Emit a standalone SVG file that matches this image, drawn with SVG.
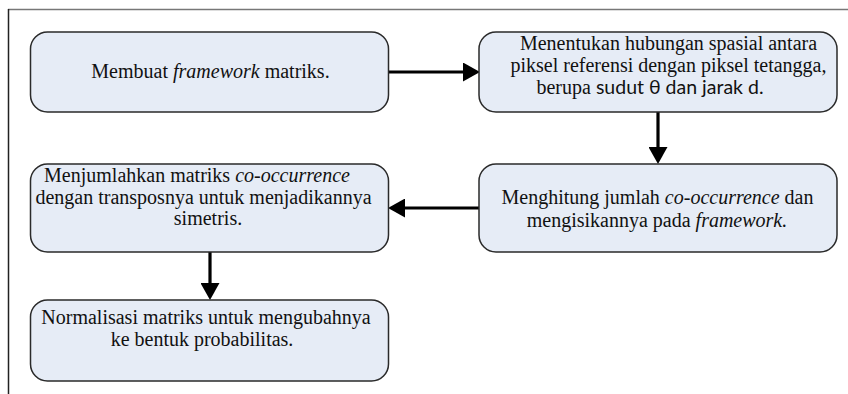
<svg xmlns="http://www.w3.org/2000/svg" width="848" height="394" viewBox="0 0 848 394">
  <style>
    .box { fill: #e6ecf6; stroke: #2a2a2a; stroke-width: 1.5; }
    .t { font-family: "Liberation Serif", "Times New Roman", serif; font-size: 20px; fill: #111; text-anchor: middle; }
    .i { font-family: "Liberation Serif", "Times New Roman", serif; font-style: italic; }
    .s { font-family: Lato, "Open Sans", sans-serif; font-size: 19.5px; }
    .link { fill: none; stroke: #000; stroke-width: 3.2; marker-end: url(#head); }
  </style>
  <defs>
    <marker id="head" viewBox="0 0 17 19" refX="0" refY="9.5" markerWidth="17" markerHeight="19" markerUnits="userSpaceOnUse" orient="auto">
      <path d="M0,0 L17,9.5 L0,19 Z" fill="#000"/>
    </marker>
  </defs>

  <!-- page frame -->
  <g id="frame">
    <line x1="8" y1="9.5" x2="848" y2="9.5" stroke="#777" stroke-width="1.5"/>
    <line x1="8.5" y1="9" x2="8.5" y2="394" stroke="#222" stroke-width="1.5"/>
  </g>

  <g id="connectors">
    <line class="link" x1="389" y1="72" x2="463" y2="72"/>
    <line class="link" x1="658" y1="112" x2="658" y2="147"/>
    <line class="link" x1="479" y1="208" x2="405" y2="208"/>
    <line class="link" x1="210" y1="252" x2="210" y2="283"/>
  </g>

  <g id="step1">
    <rect class="box" x="30.5" y="32" width="358" height="80" rx="17"/>
    <text class="t" x="210.5" y="78">Membuat <tspan class="i">framework</tspan> matriks.</text>
  </g>

  <g id="step2">
    <rect class="box" x="479" y="32" width="358" height="80" rx="17"/>
    <text class="t" x="668.5" y="50" font-size="21.5">Menentukan hubungan spasial antara</text>
    <text class="t" x="668.5" y="72" font-size="21.5">piksel referensi dengan piksel tetangga,</text>
    <text class="t" x="650" y="94" font-size="21">berupa <tspan class="s">sudut θ dan jarak d.</tspan></text>
  </g>

  <g id="step3">
    <rect class="box" x="479" y="164" width="358" height="88" rx="17"/>
    <text class="t" x="657.5" y="204">Menghitung jumlah <tspan class="i">co-occurrence</tspan> dan</text>
    <text class="t" x="657" y="227">mengisikannya pada <tspan class="i">framework.</tspan></text>
  </g>

  <g id="step4">
    <rect class="box" x="30.5" y="164" width="358" height="88" rx="17"/>
    <text class="t" x="197" y="182" font-size="20.8">Menjumlahkan matriks <tspan class="i">co-occurrence</tspan></text>
    <text class="t" x="203.5" y="203.5" font-size="20.4">dengan transposnya untuk menjadikannya</text>
    <text class="t" x="208" y="225" font-size="20.4">simetris.</text>
  </g>

  <g id="step5">
    <rect class="box" x="30.5" y="300" width="358" height="81" rx="17"/>
    <text class="t" x="206" y="323.5" font-size="19.2">Normalisasi matriks untuk mengubahnya</text>
    <text class="t" x="202" y="345.5" font-size="19.2">ke bentuk probabilitas.</text>
  </g>
</svg>
